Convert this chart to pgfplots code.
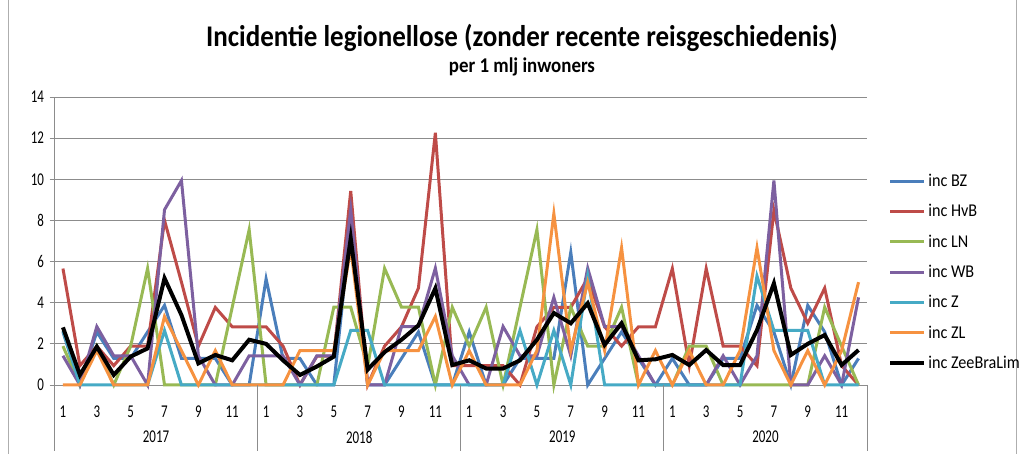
\documentclass[border=0pt]{standalone}
\usepackage{pgfplots}
\usepackage{pgfplotstable}
\pgfplotsset{compat=1.18}
\usepackage{fontspec}
\setmainfont{Carlito}[FakeStretch=0.9]
\newfontfamily\tickfont{Carlito}[FakeStretch=0.72]
\definecolor{cBZ}{HTML}{4A7EBB}
\definecolor{cHvB}{HTML}{BE4B48}
\definecolor{cLN}{HTML}{98B954}
\definecolor{cWB}{HTML}{7D60A0}
\definecolor{cZ}{HTML}{46AAC5}
\definecolor{cZL}{HTML}{F69240}
\definecolor{cgrid}{HTML}{8C8C8C}
\pgfplotstableread{
i BZ HvB LN WB Z ZL ZBL
0 2.58 5.66 1.89 1.42 2.65 0 2.8
1 0 0.94 0 0 0 0 0.49
2 2.58 1.89 1.89 2.84 0 1.67 1.86
3 1.29 0.94 0 1.42 0 0 0.49
4 1.29 1.89 1.89 1.42 0 0 1.38
5 2.58 1.89 5.67 0 0 0 1.78
6 3.87 8.0 0 8.52 2.65 3.33 5.19
7 1.29 5.0 0 9.94 0 1.67 3.4
8 1.29 1.89 0 1.42 0 0 1.05
9 1.29 3.77 0 0 0 1.67 1.46
10 0 2.83 3.78 0 0 0 1.2
11 0 2.83 7.55 1.42 0 0 2.2
12 5.16 2.83 0 1.42 0 0 2.0
13 1.29 1.89 0 1.42 0 0 1.2
14 1.29 0 0 0 0 1.67 0.49
15 0 1.4 0 1.42 0 1.67 0.9
16 0 1.4 3.78 1.42 0 1.67 1.38
17 7.74 9.43 3.78 8.52 2.65 6.67 7.13
18 0 0 0.9 0 2.65 0 0.75
19 0 1.89 5.67 0 0 1.67 1.6
20 1.29 2.83 3.78 2.84 0 1.67 2.2
21 2.58 4.71 3.78 2.84 0 1.67 2.9
22 0 12.26 0 5.68 0 3.33 4.7
23 0 0.94 3.78 1.42 0 0 0.97
24 2.58 0.94 1.89 0 0 1.67 1.2
25 0 0.94 3.78 0 0 0 0.8
26 0 0.94 0 2.84 0 0 0.8
27 1.29 0 3.78 1.42 2.65 0 1.2
28 1.29 2.83 7.55 1.42 0 1.67 2.2
29 1.29 3.77 0 4.26 2.65 8.33 3.5
30 6.45 3.77 3.78 1.42 0 1.67 3.0
31 0 5.2 1.89 5.68 5.3 5.0 3.97
32 1.29 2.83 1.89 2.84 0 1.67 1.95
33 2.58 1.89 3.78 2.84 0 6.67 3.0
34 1.29 2.83 0 1.42 0 0 1.2
35 0 2.83 0 0 0 1.67 1.25
36 1.29 5.66 0 0 0 0 1.46
37 0 0.94 1.89 0 0 1.67 0.97
38 0 5.66 1.89 0 0 0 1.7
39 1.29 1.89 0 1.42 0 0 0.97
40 1.29 1.89 0 0 0 1.67 0.97
41 3.87 0.94 0 1.42 5.3 6.67 2.67
42 2.58 8.49 0 9.94 2.65 1.67 4.94
43 0 4.71 0 0 2.65 0 1.46
44 3.87 3.0 0 0 2.65 1.67 2.0
45 2.58 4.71 3.78 1.42 0 0 2.43
46 0 0.94 1.89 0 0 1.67 0.97
47 1.29 0 0 4.26 0 5.0 1.7
}\datatable
\begin{document}
\begin{tikzpicture}[x=1pt,y=1pt]
\path[use as bounding box] (0,0) rectangle (1025,454);
\draw[cgrid!70, line width=0.8pt] (8,0) -- (8,454);
\draw[cgrid!70, line width=0.8pt] (1016,0) -- (1016,454);
\node[font=\bfseries\fontsize{30}{30}\selectfont, anchor=base] at (522,407) {Incidentie legionellose (zonder recente reisgeschiedenis)};
\node[font=\bfseries\fontsize{21}{21}\selectfont, anchor=base] at (522,381) {per 1 mlj inwoners};
\begin{axis}[
  at={(54.5pt,69pt)}, anchor=south west, scale only axis,
  width=812.5pt, height=288pt,
  xmin=-0.5, xmax=47.5, ymin=0, ymax=14,
  ytick={0,2,...,14},
  ymajorgrids, grid style={cgrid, line width=0.8pt},
  xtick={0,2,...,46},
  xticklabels={1,3,5,7,9,11,1,3,5,7,9,11,1,3,5,7,9,11,1,3,5,7,9,11},
  axis x line*=bottom, axis y line*=left,
  axis line style={cgrid, line width=0.8pt, -},
  tick align=outside, major tick length=5pt,
  ytick style={draw=cgrid, line width=0.8pt},
  xtick style={draw=none},
  tick label style={font=\tickfont\fontsize{18}{18}\selectfont},
  /pgf/number format/assume math mode=true,
  xticklabel style={yshift=-12pt},
  yticklabel style={xshift=-2pt},
  clip=false,
  legend cell align=left,
  legend style={at={(1.026,0.74)}, anchor=north west, draw=none, fill=none,
    font=\fontsize{18}{18}\selectfont, row sep=12.5pt, inner sep=0pt,
    /tikz/every even column/.append style={column sep=2pt}},
  legend image code/.code={\draw[#1] (0pt,0pt) -- (34pt,0pt);},
]
\addplot[cBZ, line width=3pt] table[x=i, y=BZ] {\datatable};
\addlegendentry{inc BZ}
\addplot[cHvB, line width=3pt] table[x=i, y=HvB] {\datatable};
\addlegendentry{inc HvB}
\addplot[cLN, line width=3pt] table[x=i, y=LN] {\datatable};
\addlegendentry{inc LN}
\addplot[cWB, line width=3pt] table[x=i, y=WB] {\datatable};
\addlegendentry{inc WB}
\addplot[cZ, line width=3pt] table[x=i, y=Z] {\datatable};
\addlegendentry{inc Z}
\addplot[cZL, line width=3pt] table[x=i, y=ZL] {\datatable};
\addlegendentry{inc ZL}
\addplot[black, line width=4pt] table[x=i, y=ZBL] {\datatable};
\addlegendentry{inc ZeeBraLim}
\foreach \xx in {-0.5,11.5,23.5,35.5,47.5} {
  \edef\temp{\noexpand\draw[cgrid, line width=0.8pt] (axis cs:\xx,0) -- ++(0pt,-66pt);}
  \temp
}
\node[font=\tickfont\fontsize{18}{18}\selectfont] at (axis cs:5.5,0) [yshift=-52pt] {2017};
\node[font=\tickfont\fontsize{18}{18}\selectfont] at (axis cs:17.5,0) [yshift=-52pt] {2018};
\node[font=\tickfont\fontsize{18}{18}\selectfont] at (axis cs:29.5,0) [yshift=-52pt] {2019};
\node[font=\tickfont\fontsize{18}{18}\selectfont] at (axis cs:41.5,0) [yshift=-52pt] {2020};
\end{axis}
\end{tikzpicture}
\end{document}
